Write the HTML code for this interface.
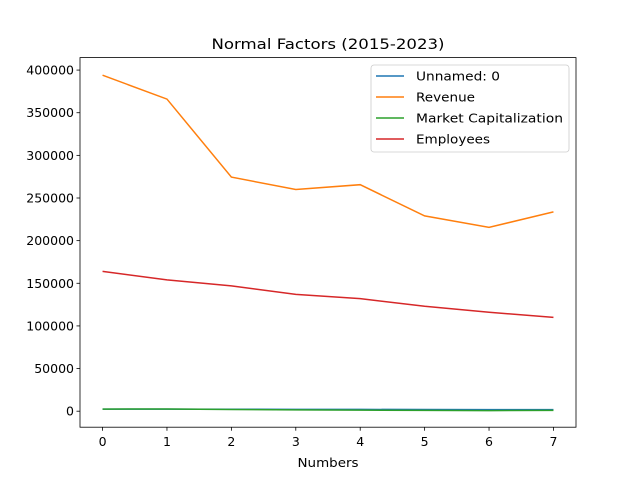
<!DOCTYPE html>
<html><head><meta charset="utf-8"><style>
body{margin:0;background:#fff}
svg{display:block;font-family:"DejaVu Sans","Liberation Sans",sans-serif}
</style></head><body>
<svg id="chart" width="640" height="480">
<rect width="640" height="480" fill="#fff"/>
<text x="328" y="49" font-size="14.4" text-anchor="middle" textLength="233" lengthAdjust="spacingAndGlyphs">Normal Factors (2015-2023)</text>
<g id="grid"></g>
<g id="series"></g>
<rect x="80" y="57.6" width="496" height="369.6" fill="none" stroke="#000" stroke-width="0.8"/>
<text x="328" y="467" font-size="12" text-anchor="middle" textLength="61" lengthAdjust="spacingAndGlyphs">Numbers</text>
<g id="legend"></g>
</svg>
<script>
const categories=[0,1,2,3,4,5,6,7];
const seriesNames=["Unnamed: 0","Revenue","Market Capitalization","Employees"];
const unnamed=[2500,2400,2300,2200,2100,2000,1900,1800];
const revenue=[394000,366000,274500,260000,265600,229000,215600,233700];
const marketCap=[2500,2600,2000,1500,1200,900,700,1000];
const employees=[164000,154000,147000,137000,132000,123000,116000,110000];
const yTicks=[0,50000,100000,150000,200000,250000,300000,350000,400000];
const legendWidths=[84,59,147,74];
const colors=["#1f77b4","#ff7f0e","#2ca02c","#d62728"];
const NS="http://www.w3.org/2000/svg";
const xs=v=>80+(v+0.35)/7.7*496;
const ys=v=>428-(v+19700)/433400*369.6;
function mk(t,a,p){const e=document.createElementNS(NS,t);for(const k in a)e.setAttribute(k,a[k]);p.appendChild(e);return e;}
const g=document.getElementById('grid');
yTicks.forEach(t=>{const y=ys(t);
const l=mk('line',{x1:76.5,x2:80,y1:y,y2:y,stroke:'#000','stroke-width':0.8},g);


const tx=mk('text',{x:74,y:y+4.5,'font-size':12.5,'text-anchor':'end'},g);tx.textContent=t;

});
categories.forEach(c=>{const x=xs(c);
const l=mk('line',{x1:x,x2:x,y1:427.2,y2:430.7,stroke:'#000','stroke-width':0.8},g);


const tx=mk('text',{x:x,y:446,'font-size':12.5,'text-anchor':'middle'},g);tx.textContent=c;

});
const s=document.getElementById('series');
[unnamed,revenue,marketCap,employees].forEach((d,i)=>{
const p=mk('polyline',{points:d.map((v,j)=>xs(categories[j])+','+ys(v)).join(' '),fill:'none',stroke:colors[i],'stroke-width':1.5},s);

});
const lg=document.getElementById('legend');
mk('rect',{x:371,y:65,width:198,height:87,rx:3,fill:'#fff','fill-opacity':0.8,stroke:'#ccc','stroke-width':0.8},lg);
seriesNames.forEach((n,i)=>{const y=76+i*21;
const l=mk('line',{x1:376,x2:404,y1:y,y2:y,stroke:colors[i],'stroke-width':1.5},lg);


const t=mk('text',{x:416,y:y+4.5,'font-size':12.5,textLength:legendWidths[i],lengthAdjust:'spacingAndGlyphs'},lg);t.textContent=n;

});
</script>
</body></html>
